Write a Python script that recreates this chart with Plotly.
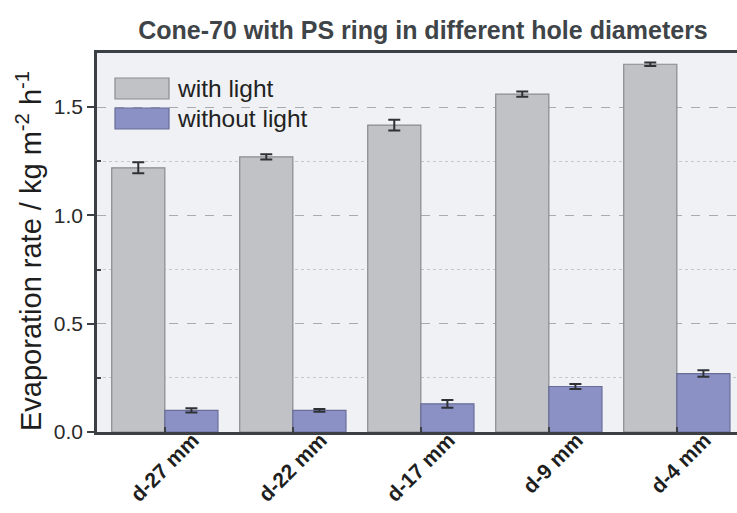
import plotly.graph_objects as go

categories = ["d-27 mm", "d-22 mm", "d-17 mm", "d-9 mm", "d-4 mm"]
with_light = [1.22, 1.27, 1.417, 1.56, 1.698]
with_light_err = [0.025, 0.012, 0.025, 0.012, 0.008]
without_light = [0.10, 0.10, 0.13, 0.21, 0.27]
without_light_err = [0.010, 0.006, 0.018, 0.012, 0.015]

series_names = ["with light", "without light"]
fill_colors = ["#c1c2c5", "#8b91c4"]
edge_colors = ["#8a8b8e", "#676c98"]

fig = go.Figure()
for name, vals, errs, fc, ec in zip(series_names, [with_light, without_light],
                                    [with_light_err, without_light_err],
                                    fill_colors, edge_colors):
    fig.add_trace(go.Bar(
        x=categories, y=vals, name=name,
        marker=dict(color=fc, line=dict(color=ec, width=1.2)),
        error_y=dict(type="data", array=errs, color="#2e3236", thickness=2, width=6),
        showlegend=False,
    ))

# hand-drawn legend with wide swatches
W, H = 737, 513
L, R, T, B = 97, 0, 53, 81
pw, ph = W - L - R, H - T - B
sw_x0, sw_x1 = 115, 169
row_y = [(78, 99), (108, 129)]
for name, fc, ec, (y0, y1) in zip(series_names, fill_colors, edge_colors, row_y):
    fig.add_shape(type="rect", xref="paper", yref="paper",
                  x0=(sw_x0 - L) / pw, x1=(sw_x1 - L) / pw,
                  y0=1 - (y1 - T) / ph, y1=1 - (y0 - T) / ph,
                  fillcolor=fc, line=dict(color=ec, width=1.2))
    fig.add_annotation(xref="paper", yref="paper",
                       x=(175 - L) / pw, y=1 - ((y0 + y1) / 2 - T) / ph,
                       xanchor="left", yanchor="middle", showarrow=False,
                       text=name, font=dict(family="Arial, Liberation Sans", size=24.5, color="#222"))

# y-axis title placed as a rotated annotation
fig.add_annotation(xref="paper", yref="paper",
                   x=(29 - L) / pw, y=1 - (251 - T) / ph,
                   xanchor="center", yanchor="middle", showarrow=False, textangle=-90,
                   text="Evaporation rate / kg m<sup>-2</sup> h<sup>-1</sup>",
                   font=dict(family="Arial, Liberation Sans", size=29, color="#1e1e1e"))

fig.update_layout(
    width=W, height=H,
    margin=dict(l=L, r=R, t=T, b=B, pad=0, autoexpand=False),
    paper_bgcolor="white", plot_bgcolor="#f0f1f4",
    barmode="group", bargap=0.17, bargroupgap=0.0,
    title=dict(text="<b>Cone-70 with PS ring in different hole diameters</b>",
               x=423 / W, xanchor="center", y=1 - 30 / H, yanchor="middle",
               font=dict(family="Liberation Sans Narrow, Arial Narrow, Arial", size=25, color="#3e4448")),
    font=dict(family="Arial, Liberation Sans", color="#333"),
)

fig.update_xaxes(
    range=[-0.53, 4.47], automargin=False,
    showline=True, linecolor="#3c4044", linewidth=2.5, mirror=True,
    ticks="inside", ticklen=5, tickwidth=2, tickcolor="#3c4044",
    tickangle=-45, ticklabelshift=28, ticklabelstandoff=-15,
    tickfont=dict(family="Arial, Liberation Sans", size=21, color="#1e1e1e", weight="bold"),
    showgrid=False,
)

fig.update_yaxes(
    range=[0, 1.75], automargin=False,
    tickvals=[0, 0.5, 1.0, 1.5], ticktext=["0.0", "0.5", "1.0", "1.5"],
    showline=True, linecolor="#3c4044", linewidth=2.5,
    ticks="outside", ticklen=7, tickwidth=2, tickcolor="#3c4044",
    tickfont=dict(family="Arial, Liberation Sans", size=21, color="#2a2a2a"),
    showgrid=True, gridcolor="#a9abae", gridwidth=1, griddash="dash",
    minor=dict(tickvals=[0.25, 0.75, 1.25], ticks="inside", ticklen=4, tickcolor="#3c4044",
               showgrid=True, gridcolor="#c4c6c9", griddash="dot", gridwidth=1),
    zeroline=False,
)

fig.write_html("out.html")
